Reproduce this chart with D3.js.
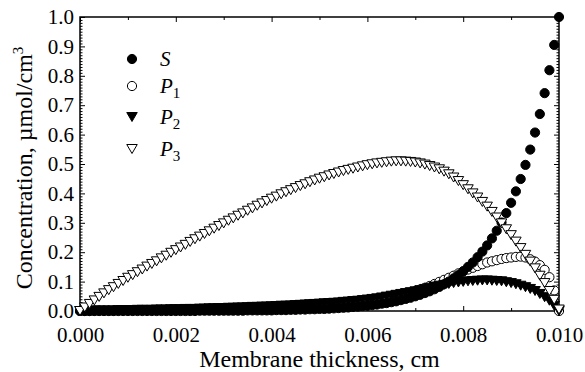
<!DOCTYPE html>
<html>
<head>
<meta charset="utf-8">
<script src="https://cdn.jsdelivr.net/npm/d3@7"></script>
<style>
  html, body { margin: 0; padding: 0; background: #fff; }
  svg { display: block; }
  text { font-family: "Liberation Serif", "Times New Roman", serif; fill: #000; }
</style>
</head>
<body>
<svg id="chart" width="585" height="372"></svg>
<script>
// x grid: 101 nodes across the membrane, 0.0001 cm apart
const thickness = d3.range(101).map(i => +(i * 0.0001).toFixed(4));

const S = [
  0.000, 0.000, 0.000, 0.000, 0.000, 0.000, 0.000, 0.000, 0.000, 0.000,
  0.000, 0.000, 0.000, 0.000, 0.000, 0.000, 0.000, 0.000, 0.000, 0.000,
  0.000, 0.000, 0.000, 0.000, 0.000, 0.001, 0.001, 0.001, 0.001, 0.001,
  0.001, 0.001, 0.001, 0.001, 0.001, 0.002, 0.002, 0.002, 0.002, 0.002,
  0.002, 0.003, 0.003, 0.003, 0.004, 0.004, 0.005, 0.005, 0.006, 0.006,
  0.007, 0.007, 0.008, 0.009, 0.010, 0.011, 0.012, 0.014, 0.015, 0.017,
  0.018, 0.020, 0.022, 0.025, 0.027, 0.030, 0.033, 0.037, 0.041, 0.045,
  0.050, 0.055, 0.061, 0.067, 0.074, 0.082, 0.091, 0.100, 0.111, 0.122,
  0.135, 0.150, 0.165, 0.183, 0.202, 0.223, 0.247, 0.273, 0.301, 0.333,
  0.368, 0.407, 0.449, 0.497, 0.549, 0.607, 0.670, 0.741, 0.819, 0.905,
  1.000
];

const P1 = [
  0.000, 0.000, 0.000, 0.001, 0.001, 0.001, 0.001, 0.001, 0.002, 0.002,
  0.002, 0.002, 0.003, 0.003, 0.003, 0.003, 0.004, 0.004, 0.004, 0.005,
  0.005, 0.005, 0.006, 0.006, 0.006, 0.007, 0.007, 0.008, 0.008, 0.009,
  0.009, 0.010, 0.010, 0.011, 0.011, 0.012, 0.013, 0.013, 0.014, 0.014,
  0.015, 0.016, 0.017, 0.017, 0.018, 0.019, 0.020, 0.021, 0.022, 0.023,
  0.024, 0.025, 0.026, 0.027, 0.028, 0.030, 0.031, 0.033, 0.034, 0.036,
  0.038, 0.040, 0.042, 0.045, 0.047, 0.050, 0.053, 0.056, 0.059, 0.063,
  0.068, 0.073, 0.079, 0.085, 0.092, 0.099, 0.106, 0.113, 0.120, 0.128,
  0.135, 0.141, 0.147, 0.153, 0.159, 0.165, 0.169, 0.173, 0.177, 0.180,
  0.182, 0.184, 0.185, 0.182, 0.176, 0.168, 0.156, 0.140, 0.115, 0.070,
  0.000
];

const P2 = [
  0.000, 0.001, 0.001, 0.002, 0.002, 0.002, 0.002, 0.002, 0.003, 0.003,
  0.003, 0.003, 0.004, 0.004, 0.004, 0.004, 0.005, 0.005, 0.005, 0.006,
  0.006, 0.006, 0.007, 0.007, 0.007, 0.008, 0.008, 0.009, 0.009, 0.010,
  0.010, 0.011, 0.011, 0.012, 0.012, 0.013, 0.014, 0.014, 0.015, 0.015,
  0.016, 0.017, 0.018, 0.018, 0.019, 0.020, 0.021, 0.022, 0.023, 0.024,
  0.025, 0.026, 0.027, 0.028, 0.029, 0.031, 0.032, 0.034, 0.035, 0.037,
  0.039, 0.041, 0.043, 0.046, 0.049, 0.052, 0.055, 0.058, 0.061, 0.064,
  0.067, 0.071, 0.075, 0.079, 0.083, 0.086, 0.089, 0.092, 0.095, 0.097,
  0.099, 0.101, 0.102, 0.103, 0.104, 0.104, 0.103, 0.102, 0.101, 0.098,
  0.095, 0.091, 0.086, 0.081, 0.075, 0.068, 0.058, 0.047, 0.035, 0.018,
  0.000
];

const P3 = [
  0.000, 0.012, 0.024, 0.036, 0.048, 0.060, 0.071, 0.081, 0.092, 0.102,
  0.113, 0.122, 0.132, 0.141, 0.151, 0.160, 0.169, 0.179, 0.188, 0.198,
  0.207, 0.216, 0.225, 0.235, 0.244, 0.253, 0.262, 0.271, 0.280, 0.289,
  0.298, 0.307, 0.315, 0.324, 0.332, 0.341, 0.349, 0.358, 0.366, 0.374,
  0.382, 0.389, 0.397, 0.404, 0.411, 0.418, 0.425, 0.431, 0.438, 0.444,
  0.450, 0.455, 0.461, 0.466, 0.471, 0.476, 0.480, 0.484, 0.488, 0.492,
  0.496, 0.499, 0.502, 0.504, 0.506, 0.508, 0.509, 0.509, 0.508, 0.507,
  0.505, 0.502, 0.498, 0.493, 0.488, 0.482, 0.474, 0.465, 0.454, 0.442,
  0.428, 0.414, 0.400, 0.386, 0.371, 0.355, 0.337, 0.318, 0.298, 0.278,
  0.258, 0.236, 0.214, 0.191, 0.168, 0.145, 0.120, 0.095, 0.068, 0.038,
  0.005
];

const xTicks = [0, 0.002, 0.004, 0.006, 0.008, 0.010];
const xMinor = [0.001, 0.003, 0.005, 0.007, 0.009];
const yTicks = [0, 0.1, 0.2, 0.3, 0.4, 0.5, 0.6, 0.7, 0.8, 0.9, 1.0];

const svg = d3.select('#chart');
const plotL = 80, plotR = 559, plotT = 17, plotB = 311;

const x = d3.scaleLinear().domain([0, 0.010]).range([plotL, plotR]);
const y = d3.scaleLinear().domain([0, 1]).range([plotB, plotT]);

const yMinor = d3.range(0, 101).map(i => i / 100).filter(v => Math.round(v * 100) % 10 !== 0);

// axes: all ticks point inward, no labels on top/right
function styleAxis(g) {
  g.select('.domain').remove();
  g.selectAll('line').attr('stroke', '#000').attr('stroke-width', 1);
}

svg.append('g').attr('transform', `translate(0,${plotB})`)
  .call(d3.axisBottom(x).tickValues(xMinor).tickSize(-3).tickFormat(''))
  .call(styleAxis);
const xAxis = svg.append('g').attr('transform', `translate(0,${plotB})`)
  .call(d3.axisBottom(x).tickValues(xTicks).tickSize(-5).tickPadding(16).tickFormat(d3.format('.3f')))
  .call(styleAxis);
xAxis.selectAll('text').style('font-size', '21px').attr('dy', '0.71em');

svg.append('g').attr('transform', `translate(0,${plotT})`)
  .call(d3.axisTop(x).tickValues(xMinor).tickSize(-3).tickFormat(''))
  .call(styleAxis);
svg.append('g').attr('transform', `translate(0,${plotT})`)
  .call(d3.axisTop(x).tickValues(xTicks).tickSize(-5).tickFormat(''))
  .call(styleAxis);

svg.append('g').attr('transform', `translate(${plotL},0)`)
  .call(d3.axisLeft(y).tickValues(yMinor).tickSize(-2.5).tickFormat(''))
  .call(styleAxis);
const yAxis = svg.append('g').attr('transform', `translate(${plotL},0)`)
  .call(d3.axisLeft(y).tickValues(yTicks).tickSize(-5).tickPadding(6).tickFormat(d3.format('.1f')))
  .call(styleAxis);
yAxis.selectAll('text').style('font-size', '21px');

svg.append('g').attr('transform', `translate(${plotR},0)`)
  .call(d3.axisRight(y).tickValues(yMinor).tickSize(-2.5).tickFormat(''))
  .call(styleAxis);
svg.append('g').attr('transform', `translate(${plotR},0)`)
  .call(d3.axisRight(y).tickValues(yTicks).tickSize(-5).tickFormat(''))
  .call(styleAxis);

// frame
svg.append('rect')
  .attr('x', plotL).attr('y', plotT)
  .attr('width', plotR - plotL).attr('height', plotB - plotT)
  .attr('fill', 'none').attr('stroke', '#000').attr('stroke-width', 1.5);

// axis titles
svg.append('text')
  .attr('x', (plotL + plotR) / 2).attr('y', 367)
  .attr('text-anchor', 'middle')
  .style('font-size', '24px')
  .text('Membrane thickness, cm');

const yTitle = svg.append('text')
  .attr('transform', 'translate(32,168) rotate(-90)')
  .attr('text-anchor', 'middle')
  .style('font-size', '24px');
yTitle.append('tspan').text('Concentration, \u00b5mol/cm');
yTitle.append('tspan').attr('dy', -9).style('font-size', '15px').text('3');

// markers
const circle = d3.symbol().type(d3.symbolCircle).size(Math.PI * 4.6 * 4.6);
const triDown = (w, h) => `M${-w / 2},${-h / 2}L${w / 2},${-h / 2}L0,${h / 2}Z`;

const series = [
  { name: 'S', sub: null, values: S, path: circle(), fill: '#000', layer: 1 },
  { name: 'P', sub: '1', values: P1, path: circle(), fill: '#fff', layer: 0 },
  { name: 'P', sub: '2', values: P2, path: triDown(10.5, 9), fill: '#000', layer: 2 },
  { name: 'P', sub: '3', values: P3, path: triDown(10.5, 9), fill: '#fff', layer: 3 }
];

// open circles sit underneath the filled S markers
series.slice().sort((a, b) => a.layer - b.layer).forEach(s => {
  svg.append('g')
    .selectAll('path')
    .data(s.values)
    .join('path')
    .attr('d', s.path)
    .attr('transform', (d, i) => `translate(${x(thickness[i])},${y(d)})`)
    .attr('fill', s.fill)
    .attr('stroke', '#000')
    .attr('stroke-width', 1);
});

// legend
const legendY = [59, 86, 117, 149];
const legend = svg.append('g');
series.forEach((s, i) => {
  const row = legend.append('g').attr('transform', `translate(132,${legendY[i]})`);
  row.append('path').attr('d', s.path).attr('fill', s.fill).attr('stroke', '#000').attr('stroke-width', 1);
  const t = row.append('text').attr('x', 28).attr('y', 7).style('font-size', '21px');
  t.append('tspan').style('font-style', 'italic').text(s.name);
  if (s.sub) t.append('tspan').attr('dy', 5).style('font-size', '15px').text(s.sub);
});
</script>
</body>
</html>
